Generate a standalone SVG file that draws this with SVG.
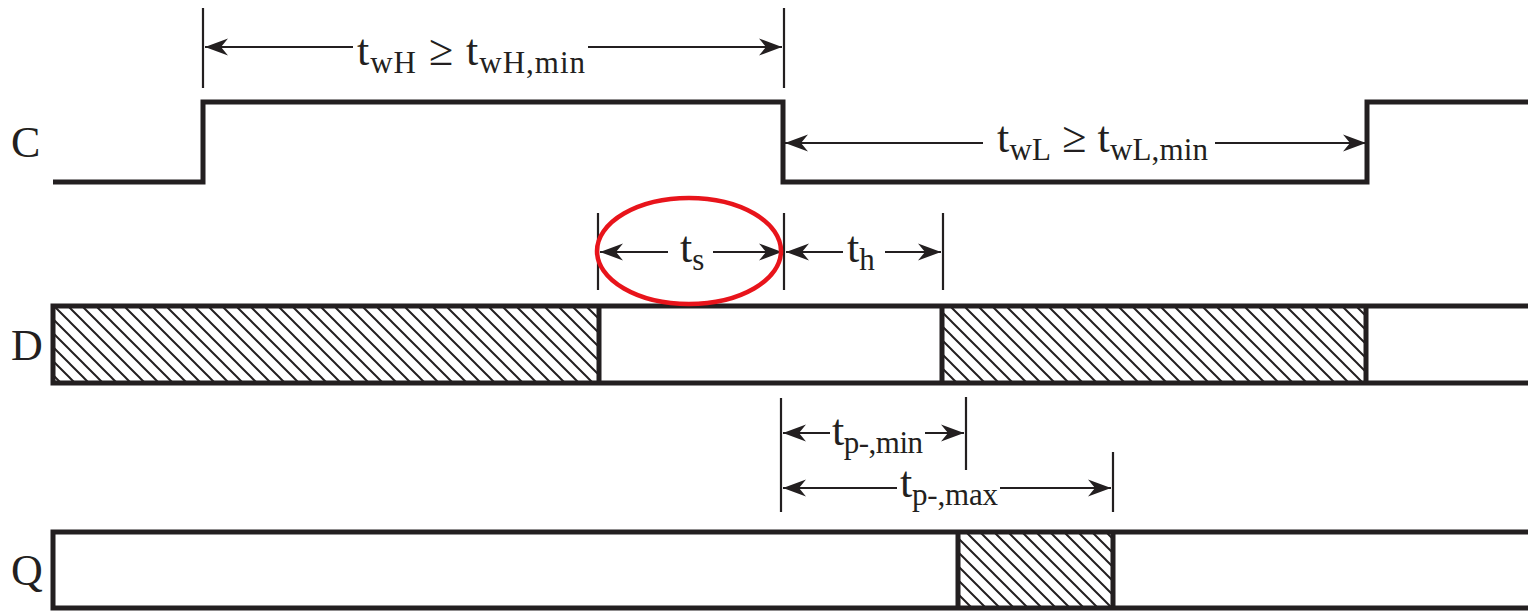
<svg xmlns="http://www.w3.org/2000/svg" width="1528" height="611" viewBox="0 0 1528 611">
<style>
.wave{fill:none;stroke:#231f20;stroke-width:5;stroke-linejoin:miter}
.dim{fill:none;stroke:#231f20;stroke-width:2}
.tick{fill:none;stroke:#231f20;stroke-width:2.2}
.lbl{font-family:"Liberation Serif","Times New Roman",serif;font-size:44px;fill:#231f20}
.sub{font-size:31px}
</style>
<defs>
<pattern id="hatch" patternUnits="userSpaceOnUse" width="14" height="14">
<path d="M-2,-2 L16,16 M-2,12 L2,16 M12,-2 L16,2" stroke="#231f20" stroke-width="2" fill="none"/>
</pattern>
<marker id="arr" viewBox="-24 -10 26 20" refX="0" refY="0" markerWidth="26" markerHeight="20" markerUnits="userSpaceOnUse" orient="auto">
<path d="M0,0 L-23,-8.5 L-16,0 L-23,8.5 z" fill="#231f20"/>
</marker>
</defs>
<rect width="1528" height="611" fill="#ffffff"/>

<g id="signal-C">
<text class="lbl" x="11" y="157">C</text>
<path class="wave" d="M53,182 H203 V102 H783 V182 H1367 V102 H1528"/>
</g>

<g id="signal-D">
<text class="lbl" x="11" y="360">D</text>
<rect x="53" y="306" width="546" height="77" fill="url(#hatch)"/>
<rect x="942" y="306" width="424" height="77" fill="url(#hatch)"/>
<path class="wave" d="M1528,306 H53 V383 H1528 M599,306 V383 M942,306 V383 M1366,306 V383"/>
</g>

<g id="signal-Q">
<text class="lbl" x="11" y="585">Q</text>
<rect x="958" y="532" width="155" height="76" fill="url(#hatch)"/>
<path class="wave" d="M1528,532 H53 V608 H1528 M958,532 V608 M1113,532 V608"/>
</g>

<g id="connectors">
<path class="tick" d="M203,8 V88 M784,8 V88"/>
<path class="dim" d="M353,47 H205" marker-end="url(#arr)"/>
<path class="dim" d="M588,47 H782" marker-end="url(#arr)"/>

<path class="dim" d="M983,143 H785" marker-end="url(#arr)"/>
<path class="dim" d="M1215,143 H1366" marker-end="url(#arr)"/>

<path class="tick" d="M598,213 V290 M784,213 V290 M943,213 V290"/>
<path class="dim" d="M668,252 H600" marker-end="url(#arr)"/>
<path class="dim" d="M713,252 H782" marker-end="url(#arr)"/>
<path class="dim" d="M843,252 H786" marker-end="url(#arr)"/>
<path class="dim" d="M885,252 H941" marker-end="url(#arr)"/>

<path class="tick" d="M781,398 V512 M966,397 V470 M1113,452 V512"/>
<path class="dim" d="M830,433 H783" marker-end="url(#arr)"/>
<path class="dim" d="M925,433 H964" marker-end="url(#arr)"/>
<path class="dim" d="M897,488 H783" marker-end="url(#arr)"/>
<path class="dim" d="M1000,488 H1111" marker-end="url(#arr)"/>
</g>

<g id="label-twH">
<text class="lbl" x="357" y="65" textLength="228" lengthAdjust="spacing">t<tspan class="sub" dy="8">wH</tspan><tspan dy="-8"> ≥ t</tspan><tspan class="sub" dy="8">wH,min</tspan></text>
</g>
<g id="label-twL">
<text class="lbl" x="997" y="152" textLength="211" lengthAdjust="spacing">t<tspan class="sub" dy="8">wL</tspan><tspan dy="-8"> ≥ t</tspan><tspan class="sub" dy="8">wL,min</tspan></text>
</g>
<g id="label-ts">
<text class="lbl" x="680" y="262">t<tspan class="sub" dy="8">s</tspan></text>
</g>
<g id="label-th">
<text class="lbl" x="847" y="262">t<tspan class="sub" dy="8">h</tspan></text>
</g>
<g id="label-tpmin">
<text class="lbl" x="832" y="445" textLength="91" lengthAdjust="spacing">t<tspan class="sub" dy="8">p-,min</tspan></text>
</g>
<g id="label-tpmax">
<text class="lbl" x="900" y="497" textLength="98" lengthAdjust="spacing">t<tspan class="sub" dy="8">p-,max</tspan></text>
</g>

<g id="highlight">
<ellipse cx="689" cy="251" rx="92" ry="53" fill="none" stroke="#e8141b" stroke-width="4.5"/>
</g>
</svg>
